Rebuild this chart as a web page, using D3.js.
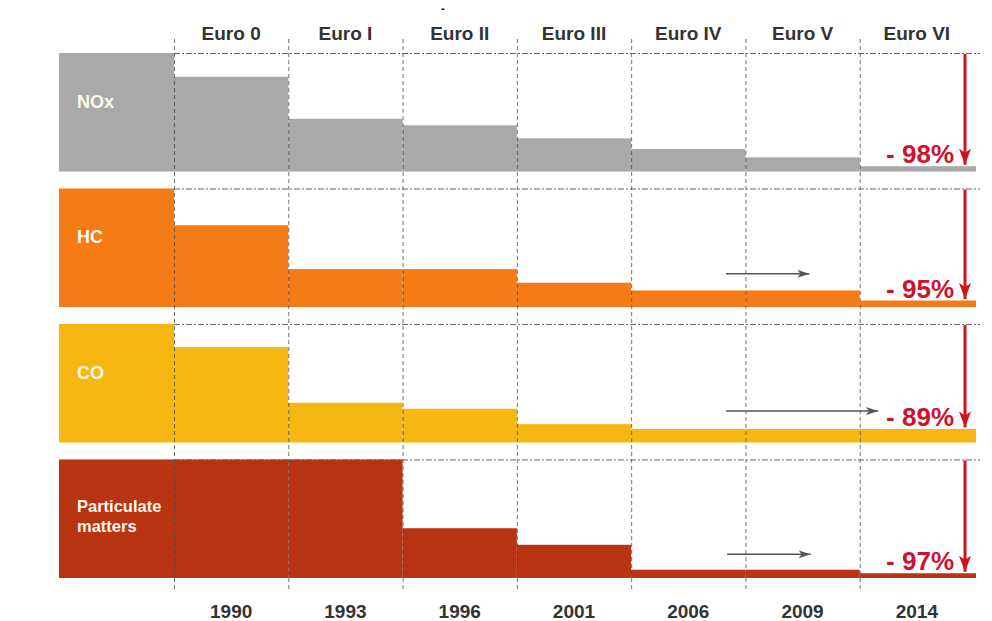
<!DOCTYPE html>
<html>
<head>
<meta charset="utf-8">
<script src="https://cdn.jsdelivr.net/npm/d3@7"></script>
<style>
  body { margin: 0; background: #fff; }
  text { font-family: "Liberation Sans", Arial, sans-serif; font-weight: bold; }
</style>
</head>
<body>
<div id="chart"></div>
<script>
// Euro emission standards, each limit as % of the pre-Euro reference (label box = 100)
var stages = ["Euro 0", "Euro I", "Euro II", "Euro III", "Euro IV", "Euro V", "Euro VI"];
var years = ["1990", "1993", "1996", "2001", "2006", "2009", "2014"];
var pollutants = ["NOx", "HC", "CO", "PM"];
var pollutantLabels = [["NOx"], ["HC"], ["CO"], ["Particulate", "matters"]];
var colors = ["#a9a9a9", "#f47b16", "#f6b713", "#b83412"];

var noxValues = [80, 44.5, 39, 28, 19, 12, 4.5];
var hcValues = [69, 32, 32, 20.5, 14, 14, 5.5];
var coValues = [80.5, 33.5, 28.5, 15.5, 11.5, 11.5, 11.5];
var pmValues = [100, 100, 42, 28, 7, 7, 4];

var reductions = ["- 98%", "- 95%", "- 89%", "- 97%"];

// "unchanged" arrows: row, start column, end column, level in row units
var flatArrows = [
  { row: "HC", from: "Euro IV", fromPos: 0.83, to: "Euro V", toPos: 0.56, level: 28 },
  { row: "CO", from: "Euro IV", fromPos: 0.83, to: "Euro VI", toPos: 0.16, level: 26.5 },
  { row: "PM", from: "Euro IV", fromPos: 0.84, to: "Euro V", toPos: 0.57, level: 20 }
];

var seriesValues = [noxValues, hcValues, coValues, pmValues];

var svgWidth = 992;
var svgHeight = 621;

var svg = d3.select("#chart")
  .append("svg")
  .attr("width", svgWidth)
  .attr("height", svgHeight);

var defs = svg.append("defs");
defs.append("marker")
  .attr("id", "redHead")
  .attr("viewBox", "0 0 12 16")
  .attr("refX", 6).attr("refY", 16)
  .attr("markerWidth", 12).attr("markerHeight", 16)
  .attr("markerUnits", "userSpaceOnUse")
  .attr("orient", "0")
  .append("path")
  .attr("d", "M0,0 L6,4 L12,0 L6,16 Z")
  .attr("fill", "#d3101f");
defs.append("marker")
  .attr("id", "greyHead")
  .attr("viewBox", "0 0 12 8")
  .attr("refX", 12).attr("refY", 4)
  .attr("markerWidth", 12).attr("markerHeight", 8)
  .attr("markerUnits", "userSpaceOnUse")
  .attr("orient", "auto")
  .append("path")
  .attr("d", "M0,0 L12,4 L0,8 L3,4 Z")
  .attr("fill", "#555");

var labelLeft = 59;

var xScale = d3.scaleBand()
  .domain(stages)
  .range([174, 974]);

var rowScale = d3.scaleBand()
  .domain(pollutants)
  .range([53, 578])
  .paddingInner(0.125);

// per-row vertical scale
function yScaleFor(p) {
  return d3.scaleLinear()
    .domain([0, 100])
    .range([rowScale(p) + rowScale.bandwidth(), rowScale(p)]);
}

// header stage names
svg.append("g")
  .selectAll("text")
  .data(stages)
  .enter()
  .append("text")
  .attr("x", d => xScale(d) + xScale.bandwidth() / 2)
  .attr("y", 40)
  .attr("text-anchor", "middle")
  .attr("font-size", "19px")
  .attr("fill", "#333")
  .text(d => d);

// stray dash at top
svg.append("text")
  .attr("x", 443).attr("y", 13)
  .attr("text-anchor", "middle")
  .attr("font-size", "13px")
  .attr("fill", "#333")
  .text("-");

// year labels
svg.append("g")
  .selectAll("text")
  .data(years)
  .enter()
  .append("text")
  .attr("x", (d, i) => xScale(stages[i]) + xScale.bandwidth() / 2)
  .attr("y", 618)
  .attr("text-anchor", "middle")
  .attr("font-size", "19px")
  .attr("fill", "#333")
  .text(d => d);

// horizontal dashed lines at top of each row
svg.append("g")
  .selectAll("line")
  .data(pollutants)
  .enter()
  .append("line")
  .attr("x1", xScale.range()[0])
  .attr("x2", 980)
  .attr("y1", d => rowScale(d) + 0.5)
  .attr("y2", d => rowScale(d) + 0.5)
  .attr("stroke", "#666")
  .attr("stroke-width", 1)
  .attr("stroke-dasharray", "6,2,2,2");

// rows
pollutants.forEach(function(p, i) {
  var y = yScaleFor(p);
  var g = svg.append("g").attr("class", "row-" + p);

  // reference box with label
  g.append("rect")
    .attr("x", labelLeft)
    .attr("y", y(100))
    .attr("width", xScale.range()[0] - labelLeft)
    .attr("height", y(0) - y(100))
    .attr("fill", colors[i]);

  var lbl = g.append("text")
    .attr("x", 77)
    .attr("font-size", p === "PM" ? "16.5px" : "18px")
    .attr("fill", "#fff8ea");
  var baseY = p === "PM" ? y(0) - 66 : y(100) + 55;
  pollutantLabels[i].forEach(function(line, k) {
    lbl.append("tspan")
      .attr("x", 77)
      .attr("y", baseY + k * 20)
      .text(line);
  });

  // bars
  g.selectAll("rect.bar")
    .data(seriesValues[i])
    .enter()
    .append("rect")
    .attr("class", "bar")
    .attr("x", (d, j) => xScale(stages[j]))
    .attr("y", d => y(d))
    .attr("width", (d, j) => xScale.bandwidth() + (j === stages.length - 1 ? 2 : 0))
    .attr("height", d => y(0) - y(d))
    .attr("fill", colors[i]);

  // reduction arrow + label
  var last = seriesValues[i][stages.length - 1];
  g.append("line")
    .attr("x1", 965).attr("x2", 965)
    .attr("y1", y(100) + 1)
    .attr("y2", y(last) - 1.5)
    .attr("stroke", "#d3101f")
    .attr("stroke-width", 3)
    .attr("marker-end", "url(#redHead)");

  g.append("text")
    .attr("x", 954)
    .attr("y", y(last) - 3)
    .attr("text-anchor", "end")
    .attr("font-size", "26px")
    .attr("fill", "#cf1230")
    .text(reductions[i]);
});

// vertical dashed column separators
svg.append("g")
  .selectAll("line")
  .data(stages)
  .enter()
  .append("line")
  .attr("x1", d => xScale(d) + 0.5)
  .attr("x2", d => xScale(d) + 0.5)
  .attr("y1", 39)
  .attr("y2", 590)
  .attr("stroke", "#444")
  .attr("stroke-opacity", 0.75)
  .attr("stroke-width", 1)
  .attr("stroke-dasharray", "4,3");

// "unchanged" grey arrows
svg.append("g")
  .selectAll("line")
  .data(flatArrows)
  .enter()
  .append("line")
  .attr("x1", d => xScale(d.from) + d.fromPos * xScale.bandwidth())
  .attr("x2", d => xScale(d.to) + d.toPos * xScale.bandwidth())
  .attr("y1", d => yScaleFor(d.row)(d.level))
  .attr("y2", d => yScaleFor(d.row)(d.level))
  .attr("stroke", "#555")
  .attr("stroke-width", 1.5)
  .attr("marker-end", "url(#greyHead)");
</script>
</body>
</html>
